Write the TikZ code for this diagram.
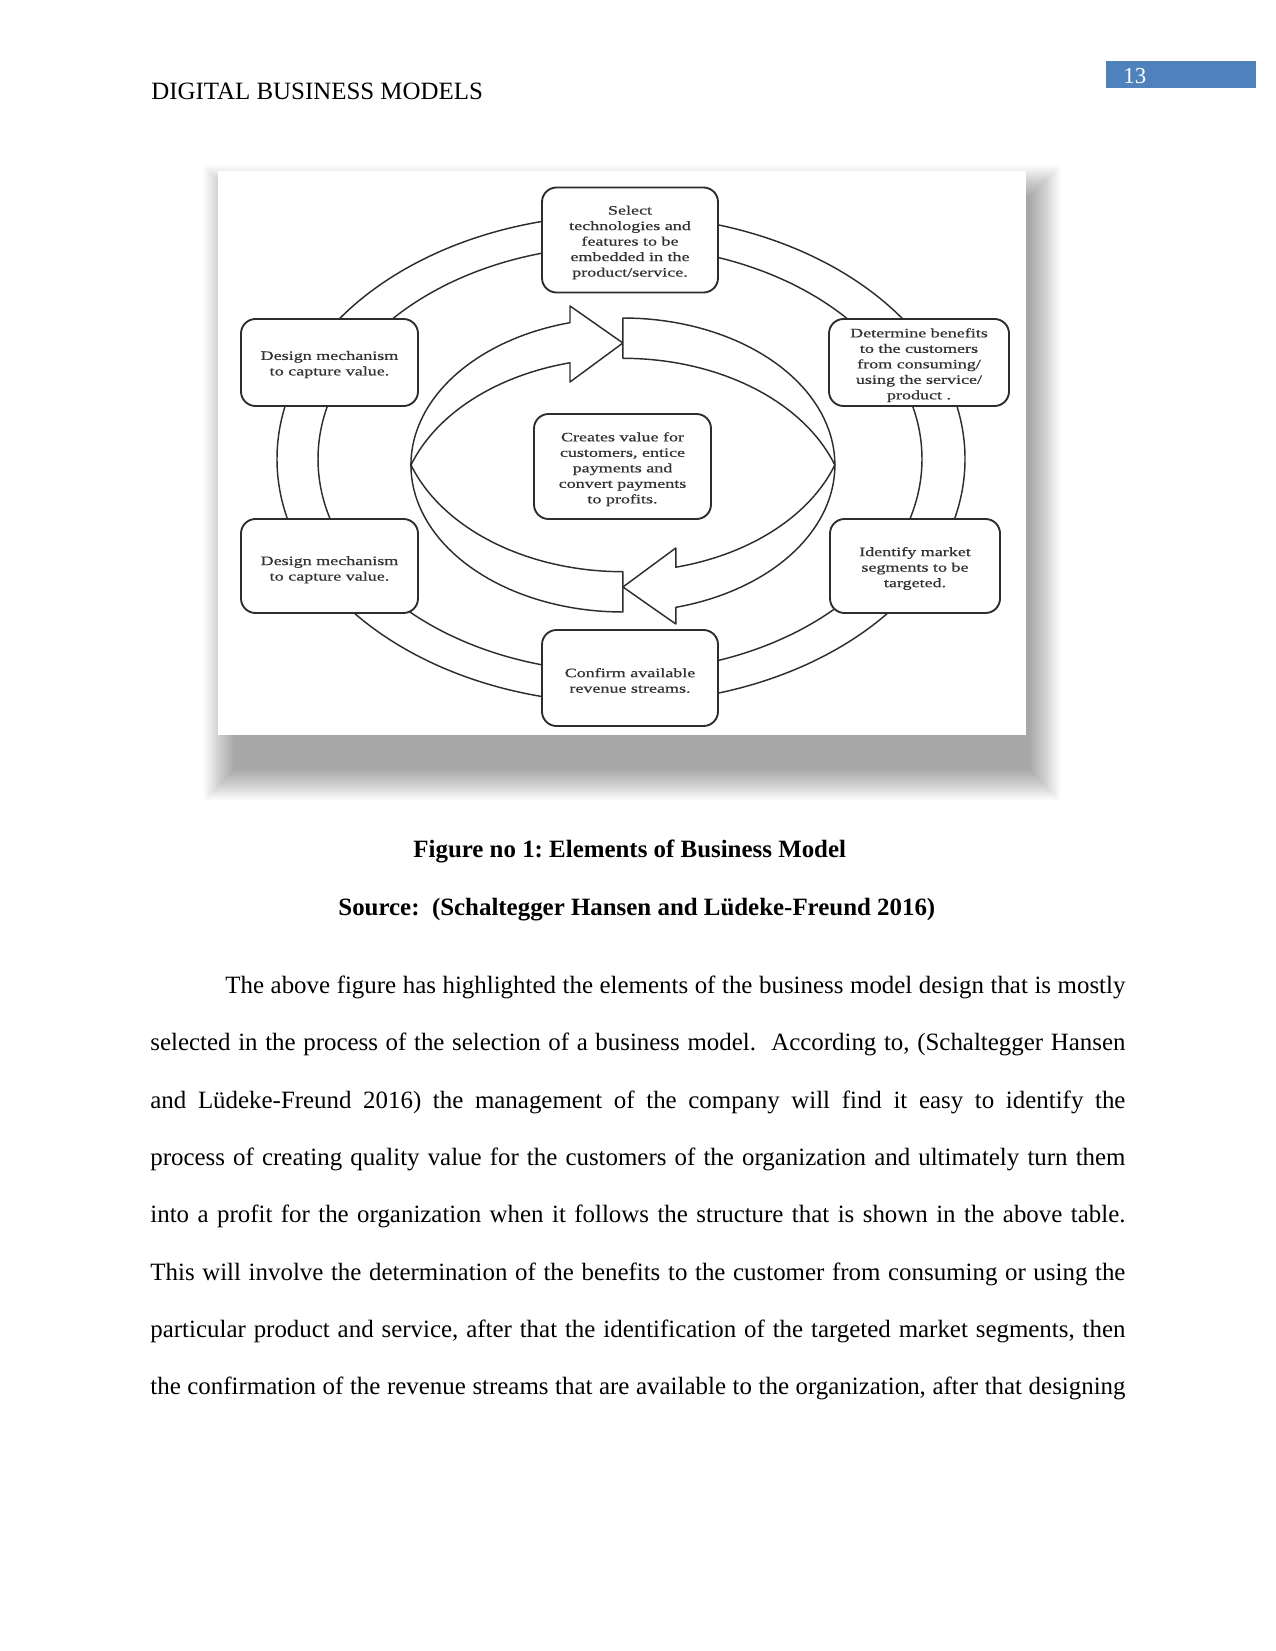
\documentclass[tikz,border=0pt]{standalone}
\usepackage{fontspec}
\setmainfont{Liberation Serif}
\newfontfamily\figfont[FakeStretch=1.4,FakeBold=0.6]{Liberation Serif}
\newlength\pxu
\setlength\pxu{0.4818pt}
\definecolor{pnblue}{RGB}{79,129,189}
\definecolor{lgray}{RGB}{45,45,45}
\definecolor{tgray}{RGB}{50,50,50}
\tikzset{
  figbox/.style={draw=lgray, fill=white, line width=0.9pt, rounded corners=7pt, inner sep=0pt},
  figtext/.style={inner sep=0pt, align=center, text=tgray,
    font={\figfont\fontsize{6.2}{7.47}\selectfont}},
  ringline/.style={draw=lgray, line width=0.7pt},
  bigarrow/.style={draw=lgray, fill=white, line width=0.7pt, line join=round},
  pagetext/.style={anchor=base west, inner sep=0pt, font={\fontsize{12}{14}\selectfont}},
  captext/.style={anchor=base west, inner sep=0pt, font={\bfseries\fontsize{12}{14}\selectfont}}
}
\begin{document}
\frenchspacing
\begin{tikzpicture}[x=0.4818pt, y=-0.4818pt]
\useasboundingbox (0,0) rectangle (1275,1651);
\fill[white] (0,0) rectangle (1275,1651);

% header
\node[pagetext] (hdr) at (151,99.5) {DIGITAL BUSINESS MODELS};
\node[fill=pnblue, anchor=north west, inner sep=0pt, minimum width=150*\pxu, minimum height=27*\pxu] (pnbox) at (1106,61) {};
\node[anchor=base west, inner sep=0pt, text=white, font={\fontsize{11}{13}\selectfont}] (pn) at (1123,83.5) {13};

% figure shadow
\foreach \e in {0,2,...,30}
  \fill[black, opacity=0.024] (234-\e,196-\e) rectangle (1030+\e,770+\e);
\fill[white] (218,171) rectangle (1026,735);

% rings
\draw[ringline] (621,459) ellipse [x radius=344*\pxu, y radius=244*\pxu];
\draw[ringline] (620,459) ellipse [x radius=302*\pxu, y radius=213*\pxu];

% central curved arrows
\def\cx{622.9}
% upper-left arrow
\filldraw[bigarrow]
  plot[domain=180:255.55, samples=40, variable=\t] ({\cx+212*cos(\t)}, {465+147*sin(\t)})
  -- (570,306) -- (622.9,343) -- (570,382)
  -- plot[domain=256.36:199.13, samples=40, variable=\t] ({\cx+224.3*cos(\t)}, {517+158.7*sin(\t)})
  -- cycle;
% upper-right band
\filldraw[bigarrow]
  plot[domain=270:360, samples=40, variable=\t] ({\cx+212*cos(\t)}, {465+147*sin(\t)})
  -- plot[domain=340.87:270, samples=40, variable=\t] ({\cx+224.3*cos(\t)}, {517+158.7*sin(\t)})
  -- cycle;
% lower-right arrow
\filldraw[bigarrow]
  plot[domain=0:75.55, samples=40, variable=\t] ({\cx+212*cos(\t)}, {465+147*sin(\t)})
  -- (675.8,624) -- (622.9,587) -- (675.8,548)
  -- plot[domain=76.36:19.13, samples=40, variable=\t] ({\cx+224.3*cos(\t)}, {413+158.7*sin(\t)})
  -- cycle;
% lower-left band
\filldraw[bigarrow]
  plot[domain=90:180, samples=40, variable=\t] ({\cx+212*cos(\t)}, {465+147*sin(\t)})
  -- plot[domain=160.87:90, samples=40, variable=\t] ({\cx+224.3*cos(\t)}, {413+158.7*sin(\t)})
  -- cycle;

% boxes
\node[figbox, minimum width=176*\pxu, minimum height=105*\pxu] (top) at (630,240) {};
\node[figbox, minimum width=177*\pxu, minimum height=87*\pxu] (lu) at (329.5,362.5) {};
\node[figbox, minimum width=180*\pxu, minimum height=87*\pxu] (ru) at (919,362.5) {};
\node[figbox, minimum width=177*\pxu, minimum height=105*\pxu] (ctr) at (622.5,466.5) {};
\node[figbox, minimum width=177*\pxu, minimum height=94*\pxu] (ll) at (329.5,566) {};
\node[figbox, minimum width=170*\pxu, minimum height=94*\pxu] (rl) at (915,566) {};
\node[figbox, minimum width=176*\pxu, minimum height=96*\pxu] (bot) at (630,678) {};

\node[figtext] (topt) at ([yshift=-1.2pt]top.center)
  {Select\\technologies and\\features to be\\embedded in the\\product/service.};
\node[figtext] (lut) at ([yshift=-1.0pt]lu.center) {Design mechanism\\to capture value.};
\node[figtext] (rut) at ([yshift=-1.3pt]ru.center)
  {Determine benefits\\to the customers\\from consuming/\\using the service/\\product .};
\node[figtext] (ctrt) at ([yshift=-1.3pt]ctr.center)
  {Creates value for\\customers, entice\\payments and\\convert payments\\to profits.};
\node[figtext] (llt) at ([yshift=-1.8pt]ll.center) {Design mechanism\\to capture value.};
\node[figtext] (rlt) at ([yshift=-1.2pt]rl.center) {Identify market\\segments to be\\targeted.};
\node[figtext] (bott) at ([yshift=-1.2pt]bot.center) {Confirm available\\revenue streams.};

% captions
\node[captext] (cap) at (413,857) {Figure no 1: Elements of Business Model};
\node[captext] (src) at (338,915) {Source:\ \ (Schaltegger Hansen and Lüdeke-Freund 2016)};

% paragraph
\node[pagetext] (p1) at (225,993.6) {\makebox[6in][s]{The above figure has highlighted the elements of the business model design that is mostly}};
\node[pagetext] (p2) at (150,1050.9) {\makebox[6.5in][s]{selected in the process of the selection of a business model.\ \ According to, (Schaltegger Hansen}};
\node[pagetext] (p3) at (150,1108.3) {\makebox[6.5in][s]{and Lüdeke-Freund 2016) the management of the company will find it easy to identify the}};
\node[pagetext] (p4) at (150,1165.6) {\makebox[6.5in][s]{process of creating quality value for the customers of the organization and ultimately turn them}};
\node[pagetext] (p5) at (150,1222.9) {\makebox[6.5in][s]{into a profit for the organization when it follows the structure that is shown in the above table.}};
\node[pagetext] (p6) at (150,1280.3) {\makebox[6.5in][s]{This will involve the determination of the benefits to the customer from consuming or using the}};
\node[pagetext] (p7) at (150,1337.6) {\makebox[6.5in][s]{particular product and service, after that the identification of the targeted market segments, then}};
\node[pagetext] (p8) at (150,1394.9) {\makebox[6.5in][s]{the confirmation of the revenue streams that are available to the organization, after that designing}};
\end{tikzpicture}
\end{document}
